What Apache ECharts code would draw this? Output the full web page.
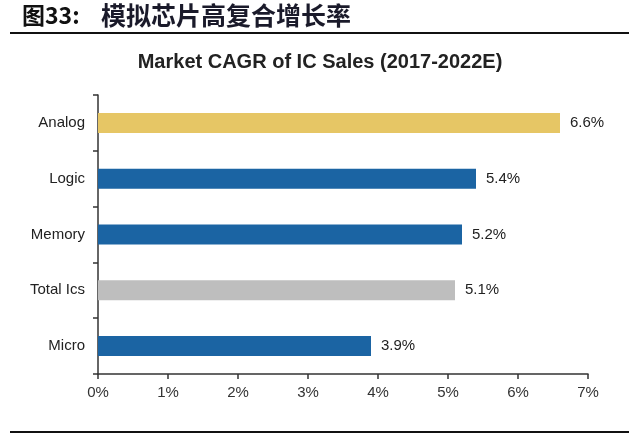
<!DOCTYPE html>
<html>
<head>
<meta charset="utf-8">
<style>
html,body{margin:0;padding:0;background:#fff;}
#c{width:640px;height:438px;}
</style>
<script src="https://cdn.jsdelivr.net/npm/echarts@6/dist/echarts.min.js"></script>
</head>
<body>
<div id="c"></div>
<script>
var categories = ['Analog', 'Logic', 'Memory', 'Total Ics', 'Micro'];
var values = [6.6, 5.4, 5.2, 5.1, 3.9];
var barColors = ['#E6C665', '#1B64A3', '#1B64A3', '#BEBEBE', '#1B64A3'];
var xTicks = [0, 1, 2, 3, 4, 5, 6, 7];

var chart = echarts.init(document.getElementById('c'));
chart.setOption({
  animation: false,
  backgroundColor: '#fff',
  title: [
    {
      text: '图33:',
      left: 22, top: 2, padding: 0,
      textStyle: {fontFamily: '"Noto Sans CJK SC", sans-serif', fontSize: 23, fontWeight: 'bold', color: '#111', lineHeight: 26}
    },
    {
      text: '模拟芯片高复合增长率',
      left: 101, top: 2, padding: 0,
      textStyle: {fontFamily: '"Noto Sans CJK SC", sans-serif', fontSize: 25, fontWeight: 'bold', color: '#1a1a2a', lineHeight: 26}
    },
    {
      text: 'Market CAGR of IC Sales (2017-2022E)',
      left: 'center', top: 47,
      textStyle: {fontFamily: '"Liberation Sans", Arial, sans-serif', fontSize: 20, fontWeight: 'bold', color: '#222'}
    }
  ],
  graphic: [
    {type: 'line', shape: {x1: 10, y1: 33, x2: 629, y2: 33}, style: {stroke: '#111', lineWidth: 2}},
    {type: 'line', shape: {x1: 10, y1: 432, x2: 629, y2: 432}, style: {stroke: '#111', lineWidth: 2}}
  ],
  grid: {left: 98, right: 52, top: 95, bottom: 64, containLabel: false},
  xAxis: {
    type: 'value',
    min: xTicks[0], max: xTicks[xTicks.length - 1], interval: 1,
    splitLine: {show: false},
    axisLine: {show: true, lineStyle: {color: '#333', width: 1.5}},
    axisTick: {show: true, length: 5, lineStyle: {color: '#333', width: 1.5}},
    axisLabel: {
      formatter: function (v) { return v + '%'; },
      fontFamily: '"Liberation Sans", Arial, sans-serif', fontSize: 15, color: '#333', margin: 11
    }
  },
  yAxis: {
    type: 'category',
    data: categories,
    inverse: true,
    axisLine: {show: true, lineStyle: {color: '#333', width: 1.5}},
    axisTick: {show: true, length: 5, lineStyle: {color: '#333', width: 1.5}},
    axisLabel: {fontFamily: '"Liberation Sans", Arial, sans-serif', fontSize: 15, color: '#222', margin: 13}
  },
  series: [{
    type: 'bar',
    barWidth: 20,
    data: values.map(function (v, i) { return {value: v, itemStyle: {color: barColors[i]}}; }),
    label: {
      show: true, position: 'right', distance: 10,
      formatter: function (p) { return p.value.toFixed(1) + '%'; },
      fontFamily: '"Liberation Sans", Arial, sans-serif', fontSize: 15, color: '#222'
    }
  }]
});
</script>
</body>
</html>
